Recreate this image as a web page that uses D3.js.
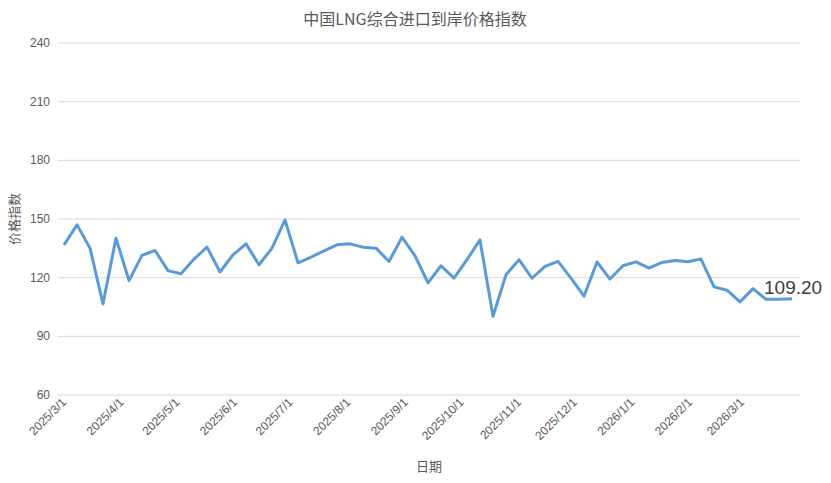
<!DOCTYPE html><html><head><meta charset="utf-8"><script src="https://cdn.jsdelivr.net/npm/d3@7"></script>
<style>body{margin:0;background:#fff;font-family:"Liberation Sans",Arial,sans-serif}</style></head><body><svg id="c" width="831" height="483"></svg>
<script>
const startDate="2025-03-01";
const values=[136.8,147,135.1,106.6,140.2,118.5,131.4,133.9,123.6,122,129.5,135.6,122.9,131.7,137.3,126.6,135.1,149.5,127.6,130.5,133.7,136.8,137.3,135.6,135.1,128.3,140.7,131.2,117.3,126.1,119.8,129.2,139.3,100.3,121.5,129.2,119.7,125.8,128.3,119.8,110.5,128,119.3,126.1,128.1,124.9,127.8,128.8,128.1,129.5,115.3,113.6,107.6,114.4,108.9,109.0,109.2];
const yTicks=[60,90,120,150,180,210,240];
const xTickLabels=["2025/3/1","2025/4/1","2025/5/1","2025/6/1","2025/7/1","2025/8/1","2025/9/1","2025/10/1","2025/11/1","2025/12/1","2026/1/1","2026/2/1","2026/3/1"];
const parse=d3.timeParse("%Y/%m/%d");
const s=parse("2025/03/01");
const data=values.map((v,i)=>({d:d3.timeDay.offset(s,i*7),v}));
const svg=d3.select("#c");
const x=d3.scaleTime().domain([data[0].d,data[data.length-1].d]).range([64,792]);
const y=d3.scaleLinear().domain([60,240]).range([395,43]);
svg.append("g").selectAll("line").data(yTicks).join("line").attr("x1",58).attr("x2",800).attr("y1",d=>y(d)).attr("y2",d=>y(d)).attr("stroke","#d9d9d9");
svg.append("g").selectAll("text").data(yTicks).join("text").attr("x",50).attr("y",d=>y(d)+4).attr("text-anchor","end").attr("font-size",12).attr("fill","#595959").text(d=>d);
svg.append("g").selectAll("text").data(xTickLabels).join("text").attr("transform",d=>`translate(${x(parse(d))+3},${403}) rotate(-45)`).attr("text-anchor","end").attr("font-size",12).attr("fill","#595959").text(d=>d);
svg.append("path").datum(data).attr("d",d3.line().x(d=>x(d.d)).y(d=>y(d.v))).attr("fill","none").attr("stroke","#5b9bd5").attr("stroke-width",3).attr("stroke-linejoin","round");
const last=data[data.length-1];
svg.append("text").attr("x",x(last.d)-28).attr("y",y(last.v)-5).attr("font-size",19).attr("fill","#404040").text(last.v.toFixed(2));
svg.append("text").attr("x",415).attr("y",25).attr("text-anchor","middle").attr("font-size",16).attr("fill","#595959").attr("font-family","Noto Sans CJK SC").text("中国LNG综合进口到岸价格指数");
svg.append("text").attr("transform","translate(19,219) rotate(-90)").attr("text-anchor","middle").attr("font-size",13).attr("fill","#595959").attr("font-family","Noto Sans CJK SC").text("价格指数");
svg.append("text").attr("x",429).attr("y",471).attr("text-anchor","middle").attr("font-size",13).attr("fill","#595959").attr("font-family","Noto Sans CJK SC").text("日期");
</script></body></html>
